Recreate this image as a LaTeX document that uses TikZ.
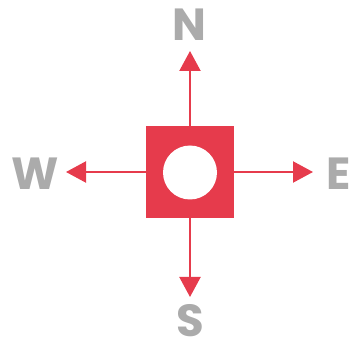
\documentclass[tikz,border=0pt]{standalone}
\usepackage{fontspec}
\setmainfont{Poppins}
\usetikzlibrary{arrows.meta}
\definecolor{cred}{HTML}{E63B4C}
\definecolor{cgray}{HTML}{ABABAB}
\tikzset{
  dir/.style={text=cgray, font=\fontsize{45}{45}\selectfont\bfseries, inner sep=0pt, anchor=center},
  conn/.style={draw=cred, line width=2.2pt, -{Triangle[length=20pt,width=21pt]}},
}
\begin{document}
\begin{tikzpicture}[x=1pt,y=-1pt]
\useasboundingbox (0,0) rectangle (357,342);
\node[fill=cred, minimum width=88pt, minimum height=92pt, inner sep=0pt] (sq) at (190,172) {};
\node[fill=white, circle, minimum size=54pt, inner sep=0pt] (c) at (190,172.5) {};
\coordinate (nt) at (190,51);
\coordinate (st) at (190,297);
\coordinate (wt) at (66,172);
\coordinate (et) at (313,172);
\draw[conn] (sq.north) -- (nt);
\draw[conn] (sq.south) -- (st);
\draw[conn] (sq.west) -- (wt);
\draw[conn] (sq.east) -- (et);
\node[dir] (N) at (189,25) {N};
\node[dir] (S) at (190,321) {S};
\node[dir] (W) at (35,174) {W};
\node[dir] (E) at (339,174) {E};
\end{tikzpicture}
\end{document}
